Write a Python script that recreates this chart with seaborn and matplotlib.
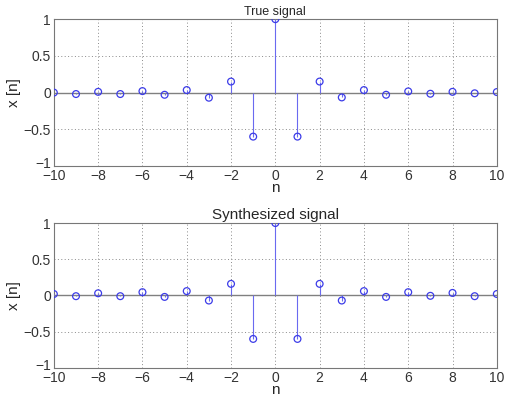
import numpy as np
import pandas as pd
import matplotlib
matplotlib.use("Agg")
import matplotlib.pyplot as plt
import matplotlib.transforms as mtransforms
import seaborn as sns

n = list(range(-10, 11))
true_signal = [0.0, -0.02, 0.01, -0.02, 0.02, -0.03, 0.034, -0.07, 0.15, -0.6, 1.0,
               -0.6, 0.15, -0.066, 0.034, -0.03, 0.016, -0.016, 0.01, -0.01, 0.007]
synth_signal = [0.02, -0.01, 0.03, -0.01, 0.045, -0.02, 0.06, -0.07, 0.16, -0.6, 1.0,
                -0.6, 0.16, -0.07, 0.06, -0.02, 0.045, -0.005, 0.035, -0.01, 0.02]
titles = ["True signal", "Synthesized signal"]
title_sizes = [9, 11]
xticks = [-10, -8, -6, -4, -2, 0, 2, 4, 6, 8, 10]
yticks = [-1, -0.5, 0, 0.5, 1]
ytick_labels = ["\u22121", "\u22120.5", "0", "0.5", "1"]
xtick_labels = ["\u221210", "\u22128", "\u22126", "\u22124", "\u22122", "0", "2", "4", "6", "8", "10"]

sns.set_style("white")
plt.rcParams['font.family'] = ['Liberation Sans', 'DejaVu Sans']

fig = plt.figure(figsize=(5.08, 3.99), dpi=100)
ax1 = fig.add_axes([0.106, 0.584, 0.872, 0.368])
ax2 = fig.add_axes([0.106, 0.078, 0.872, 0.363])

blue = "#3c3ce8"
stem_blue = "#6a6af0"
for ax, vals, title, tsize in zip([ax1, ax2], [true_signal, synth_signal], titles, title_sizes):
    df = pd.DataFrame({"n": n, "x": vals})
    ax.axhline(0, color="#808080", lw=1.0, zorder=2)
    ax.vlines(df["n"], 0, df["x"], color=stem_blue, lw=0.8, zorder=3)
    sns.scatterplot(data=df, x="n", y="x", ax=ax, marker="o", s=24,
                    facecolors="none", edgecolor=blue, linewidth=0.9, zorder=4)
    ax.set_xlim(-10, 10)
    ax.set_ylim(-1, 1)
    ax.set_xticks(xticks)
    ax.set_xticklabels(xtick_labels)
    ax.set_yticks(yticks)
    ax.set_yticklabels(ytick_labels)
    ax.grid(True, linestyle=(0, (1, 2.5)), color="#8a8a8a", lw=0.7)
    ax.tick_params(axis="both", labelsize=10, length=3, direction="in", colors="#333333")
    ax.tick_params(axis="x", pad=2)
    ax.tick_params(axis="y", pad=2)
    for sp in ax.spines.values():
        sp.set_color("#777777")
        sp.set_linewidth(0.8)
    # nudge the bottom y tick label up slightly so it does not collide with -10
    lbl = ax.get_yticklabels()[0]
    lbl.set_transform(lbl.get_transform() + mtransforms.ScaledTranslation(0, 2.5 / 72, fig.dpi_scale_trans))
    ax.set_xlabel("n", fontsize=11, labelpad=-1)
    ax.set_ylabel("x [n]", fontsize=11)
    ax.yaxis.set_label_coords(-0.075, 0.5)
    ax.set_title(title, fontsize=tsize, pad=3)

fig.savefig("out.png", dpi=100)
